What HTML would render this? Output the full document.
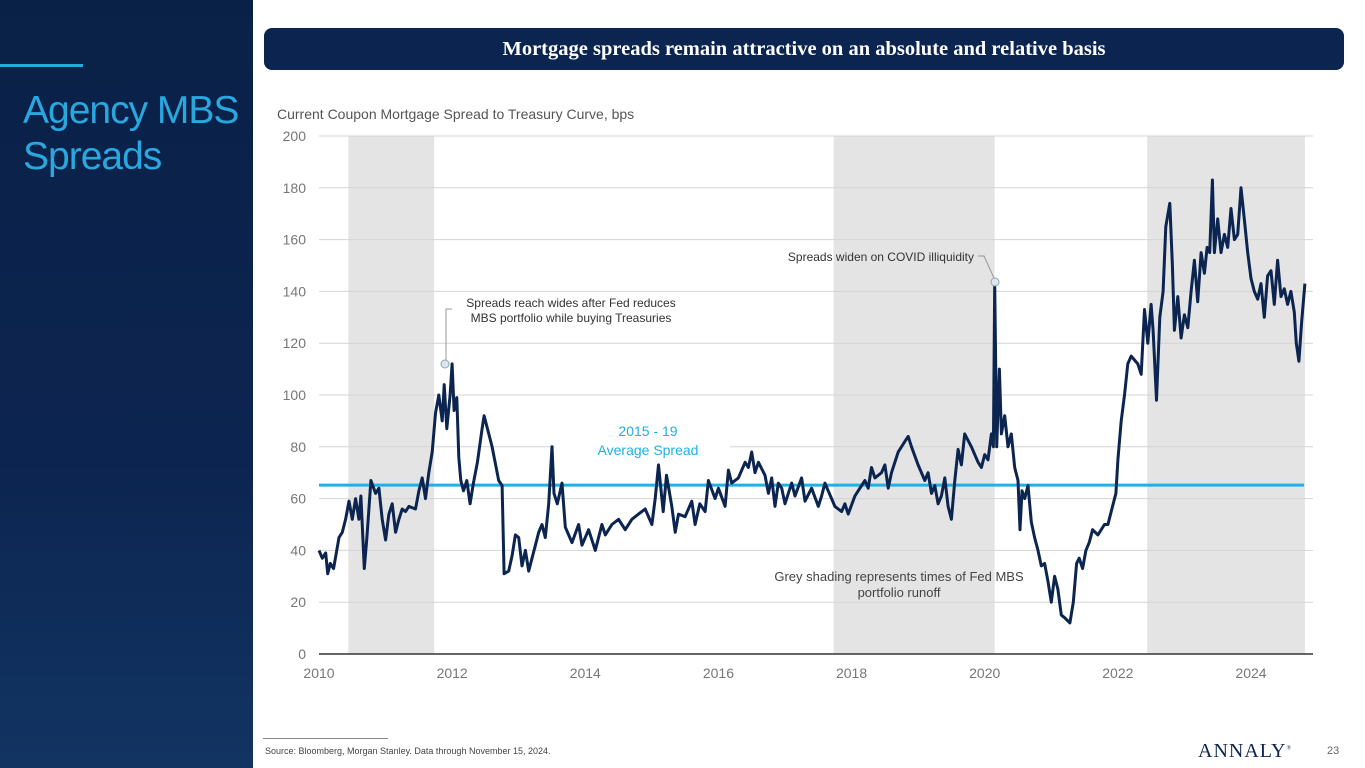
<!DOCTYPE html>
<html><head><meta charset="utf-8"><style>
body{margin:0;width:1365px;height:768px;position:relative;background:#fff;font-family:"Liberation Sans",sans-serif;overflow:hidden}
</style></head><body>
<div style="position:absolute;left:0;top:0;width:253px;height:768px;background:linear-gradient(180deg,#0a2147 0%,#0c2550 60%,#123462 100%)"></div>
<div style="position:absolute;left:0;top:64px;width:83px;height:3px;background:#29a8e0"></div>
<div style="position:absolute;left:23px;top:88px;color:#29a8e0;font-size:39px;line-height:46px;letter-spacing:-1px">Agency MBS<br>Spreads</div>
<div style="position:absolute;left:264px;top:28px;width:1080px;height:42px;background:#0c2550;border-radius:8px;color:#fff;font-family:'Liberation Serif',serif;font-weight:bold;font-size:20.5px;text-align:center;line-height:42px">Mortgage spreads remain attractive on an absolute and relative basis</div>
<div style="position:absolute;left:277px;top:106px;color:#555;font-size:14px">Current Coupon Mortgage Spread to Treasury Curve, bps</div>
<svg id="chart" width="1365" height="768" style="position:absolute;left:0;top:0" font-family="Liberation Sans, sans-serif"></svg>
<div style="position:absolute;left:263px;top:738px;width:125px;height:1px;background:#888"></div>
<div style="position:absolute;left:265px;top:746px;font-size:9px;color:#444">Source: Bloomberg, Morgan Stanley. Data through November 15, 2024.</div>
<div style="position:absolute;left:1198px;top:740px;font-family:'Liberation Serif',serif;font-size:20px;color:#0c2550;letter-spacing:1px">ANNALY<sup style="font-size:6px">®</sup></div>
<div style="position:absolute;left:1327px;top:745px;font-size:11px;color:#666">23</div>
<script>
const years=[2010,2012,2014,2016,2018,2020,2022,2024];
const yTicks=[0,20,40,60,80,100,120,140,160,180,200];
const shadeStart=[2010.44,2017.73,2022.44];
const shadeEnd=[2011.73,2020.15,2024.81];
const avgSpread=65.2;
const dates=[2010.0,2010.05,2010.1,2010.13,2010.17,2010.22,2010.3,2010.35,2010.4,2010.45,2010.5,2010.55,2010.6,2010.63,2010.68,2010.72,2010.78,2010.85,2010.9,2010.95,2011.0,2011.05,2011.1,2011.15,2011.2,2011.25,2011.3,2011.35,2011.45,2011.5,2011.55,2011.6,2011.65,2011.7,2011.75,2011.8,2011.85,2011.88,2011.92,2011.97,2012.0,2012.03,2012.07,2012.1,2012.13,2012.17,2012.22,2012.27,2012.32,2012.38,2012.45,2012.48,2012.55,2012.6,2012.7,2012.75,2012.78,2012.85,2012.9,2012.95,2013.0,2013.05,2013.1,2013.15,2013.2,2013.25,2013.3,2013.35,2013.4,2013.45,2013.5,2013.53,2013.58,2013.65,2013.7,2013.8,2013.9,2013.95,2014.05,2014.15,2014.25,2014.3,2014.4,2014.5,2014.6,2014.7,2014.8,2014.9,2015.0,2015.05,2015.1,2015.17,2015.22,2015.3,2015.35,2015.4,2015.5,2015.6,2015.65,2015.72,2015.8,2015.85,2015.95,2016.0,2016.1,2016.15,2016.2,2016.3,2016.4,2016.45,2016.5,2016.55,2016.6,2016.7,2016.75,2016.8,2016.85,2016.9,2016.95,2017.0,2017.05,2017.1,2017.15,2017.25,2017.3,2017.4,2017.5,2017.55,2017.6,2017.7,2017.75,2017.85,2017.9,2017.95,2018.05,2018.1,2018.2,2018.25,2018.3,2018.35,2018.45,2018.5,2018.55,2018.6,2018.7,2018.8,2018.85,2018.9,2019.0,2019.1,2019.15,2019.2,2019.25,2019.3,2019.35,2019.4,2019.45,2019.5,2019.55,2019.6,2019.65,2019.7,2019.8,2019.9,2019.95,2020.0,2020.05,2020.1,2020.13,2020.15,2020.18,2020.22,2020.25,2020.3,2020.35,2020.4,2020.45,2020.5,2020.53,2020.56,2020.6,2020.65,2020.7,2020.75,2020.8,2020.85,2020.9,2020.95,2021.0,2021.05,2021.1,2021.15,2021.2,2021.28,2021.33,2021.38,2021.42,2021.47,2021.52,2021.57,2021.62,2021.7,2021.8,2021.85,2021.9,2021.97,2022.0,2022.05,2022.1,2022.15,2022.2,2022.3,2022.35,2022.4,2022.45,2022.5,2022.53,2022.58,2022.63,2022.68,2022.72,2022.78,2022.82,2022.85,2022.9,2022.95,2023.0,2023.05,2023.1,2023.15,2023.2,2023.25,2023.3,2023.34,2023.38,2023.42,2023.45,2023.5,2023.55,2023.6,2023.65,2023.7,2023.75,2023.8,2023.85,2023.9,2023.95,2024.0,2024.05,2024.1,2024.15,2024.2,2024.25,2024.3,2024.35,2024.4,2024.45,2024.5,2024.55,2024.6,2024.65,2024.68,2024.72,2024.76,2024.81];
const spreads=[40,37,39,31,35,33,45,47,52,59,52,60,52,61,33,45,67,62,64,52,44,54,58,47,52,56,55,57,56,63,68,60,70,78,93,100,90,104,87,100,112,94,99,76,67,63,67,58,66,74,87,92,85,80,67,65,31,32,38,46,45,34,40,32,37,42,47,50,45,58,80,62,58,66,49,43,50,42,48,40,50,46,50,52,48,52,54,56,50,60,73,55,69,57,47,54,53,59,50,58,55,67,60,64,57,71,66,68,74,72,78,70,74,69,62,68,57,66,64,58,62,66,61,68,59,64,57,61,66,60,57,55,58,54,61,63,67,64,72,68,70,73,64,70,78,82,84,80,73,67,70,62,65,58,61,68,57,52,67,79,73,85,80,74,72,77,75,85,80,143,80,110,85,92,80,85,72,67,48,63,60,65,51,45,40,34,35,28,20,30,25,15,14,12,20,35,37,33,40,43,48,46,50,50,55,62,75,90,100,112,115,112,108,133,120,135,125,98,130,140,165,174,150,125,138,122,131,126,140,152,136,155,147,157,155,183,155,168,155,162,157,172,160,162,180,168,155,145,140,137,143,130,146,148,135,152,138,141,135,140,132,120,113,128,143,132,135];
const svg=document.getElementById('chart');const NS='http://www.w3.org/2000/svg';
const X0=319,X1=1251,Y0=654,Y1=136;
const xs=v=>X0+(v-2010)*(X1-X0)/14;
const ys=v=>Y0-(v)*(Y0-Y1)/200;
function mk(t,a,txt){const e=document.createElementNS(NS,t);for(const k in a)e.setAttribute(k,a[k]);if(txt!==undefined)e.textContent=txt;svg.appendChild(e);return e;}
for(let i=0;i<shadeStart.length;i++){
 const r=mk('rect',{x:xs(shadeStart[i]),y:Y1,width:xs(shadeEnd[i])-xs(shadeStart[i]),height:Y0-Y1,fill:'#e4e4e4'});
 
 
}
yTicks.forEach(v=>{
 const l=mk('line',{x1:X0,x2:1313,y1:ys(v),y2:ys(v),stroke:v===0?'#333':'#d4d4d4','stroke-width':v===0?1.5:1});
 
 
 const t=mk('text',{x:306,y:ys(v)+5,'text-anchor':'end','font-size':14,fill:'#777'},v);
 
 
});
years.forEach(v=>{
 const t=mk('text',{x:xs(v),y:678,'text-anchor':'middle','font-size':14,fill:'#777'},v);
 
 
});
const avg=mk('line',{x1:X0,x2:1304,y1:ys(avgSpread),y2:ys(avgSpread),stroke:'#1fb0e8','stroke-width':3});


const bg=mk('rect',{x:555,y:418,width:175,height:46,fill:'#fff'});


const a1=mk('text',{x:648,y:436,'text-anchor':'middle','font-size':14,fill:'#1fb0e8'},'2015 - 19');


const a2=mk('text',{x:648,y:455,'text-anchor':'middle','font-size':14,fill:'#1fb0e8'},'Average Spread');


let d='';dates.forEach((t,i)=>{d+=(i?'L':'M')+xs(t).toFixed(1)+','+ys(spreads[i]).toFixed(1);});
const p=mk('path',{d:d,fill:'none',stroke:'#0c2550','stroke-width':3,'stroke-linejoin':'round'});


const c1=mk('path',{d:'M446,361 L446,309 L452,309',fill:'none',stroke:'#999','stroke-width':1});


const m1=mk('circle',{cx:445,cy:364,r:4,fill:'#dde6f0',stroke:'#8aa','stroke-width':1});


const t1=mk('text',{x:571,y:307,'text-anchor':'middle','font-size':12,fill:'#333'},'Spreads reach wides after Fed reduces');


const t2=mk('text',{x:571,y:322,'text-anchor':'middle','font-size':12,fill:'#333'},'MBS portfolio while buying Treasuries');


const c2=mk('path',{d:'M978,256 L984,256 L994,278',fill:'none',stroke:'#999','stroke-width':1});


const m2=mk('circle',{cx:995,cy:282,r:4,fill:'#dde6f0',stroke:'#8aa','stroke-width':1});


const t3=mk('text',{x:974,y:261,'text-anchor':'end','font-size':12,fill:'#333'},'Spreads widen on COVID illiquidity');


const t4=mk('text',{x:899,y:581,'text-anchor':'middle','font-size':13,fill:'#444'},'Grey shading represents times of Fed MBS');


const t5=mk('text',{x:899,y:597,'text-anchor':'middle','font-size':13,fill:'#444'},'portfolio runoff');


</script>
</body></html>
